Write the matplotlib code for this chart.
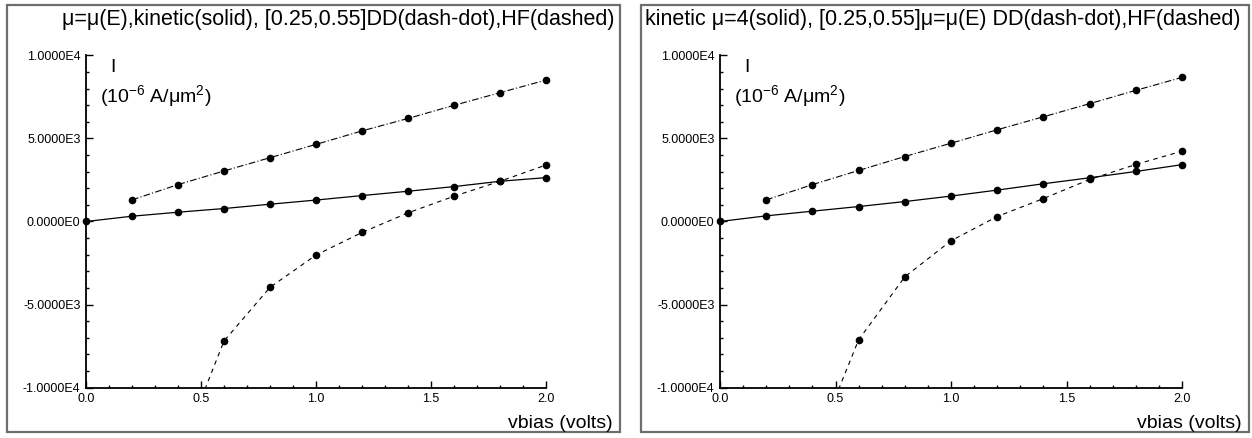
import numpy as np
import matplotlib
matplotlib.use('Agg')
import matplotlib.pyplot as plt
from matplotlib.ticker import MultipleLocator, FuncFormatter
from matplotlib.patches import Rectangle

plt.rcParams.update({'font.family': ['Liberation Sans', 'DejaVu Sans'],
                     'mathtext.default': 'regular'})

vbias = [0.0, 0.2, 0.4, 0.6, 0.8, 1.0, 1.2, 1.4, 1.6, 1.8, 2.0]
vbias_dd = vbias[1:]
vbias_hf = vbias[2:]

# left: mu = mu(E)
kin_left = [0, 318, 559, 780, 1040, 1290, 1560, 1820, 2100, 2420, 2640]
dd_left = [1300, 2220, 3040, 3840, 4640, 5450, 6200, 6990, 7750, 8510]
hf_left = [-14200, -7190, -3960, -2020, -660, 520, 1520, 2420, 3400]

# right: kinetic mu = 4
kin_right = [0, 340, 620, 900, 1200, 1530, 1890, 2270, 2630, 3010, 3420]
dd_right = [1300, 2220, 3070, 3910, 4710, 5520, 6300, 7090, 7890, 8670]
hf_right = [-14000, -7120, -3330, -1160, 300, 1380, 2530, 3430, 4230]

titles = ['μ=μ(E),kinetic(solid), [0.25,0.55]DD(dash-dot),HF(dashed)',
          'kinetic μ=4(solid), [0.25,0.55]μ=μ(E) DD(dash-dot),HF(dashed)']

def efmt(v, pos):
    if v == 0:
        return '0.0000E0'
    e = int(np.floor(np.log10(abs(v)) + 1e-9))
    return f'{v / 10**e:.4f}E{e}'

W, H = 1252, 438
fig = plt.figure(figsize=(W / 100, H / 100), dpi=100)

panels = [
    dict(box=(7, 5, 620, 432), ax=(86, 55.3, 546, 387.7), title_x=614, ha='right',
         kin=kin_left, dd=dd_left, hf=hf_left),
    dict(box=(641, 5, 1249, 432), ax=(720, 55.3, 1182, 387.7), title_x=645, ha='left',
         kin=kin_right, dd=dd_right, hf=hf_right),
]

for p, title in zip(panels, titles):
    x0, y0, x1, y1 = p['box']
    fig.patches.append(Rectangle((x0 / W, 1 - y1 / H), (x1 - x0) / W, (y1 - y0) / H,
                                 transform=fig.transFigure, fill=False,
                                 edgecolor='#6e6e6e', lw=1.6))
    ax0, ay0, ax1, ay1 = p['ax']
    ax = fig.add_axes([ax0 / W, 1 - ay1 / H, (ax1 - ax0) / W, (ay1 - ay0) / H])
    ax.set_xlim(0, 2)
    ax.set_ylim(-1e4, 1e4)
    for s in ['top', 'right']:
        ax.spines[s].set_visible(False)
    for s in ['left', 'bottom']:
        ax.spines[s].set_linewidth(1.3)
    ax.xaxis.set_major_locator(MultipleLocator(0.5))
    ax.xaxis.set_minor_locator(MultipleLocator(0.1))
    ax.yaxis.set_major_locator(MultipleLocator(5000))
    ax.yaxis.set_minor_locator(MultipleLocator(1000))
    ax.xaxis.set_major_formatter(FuncFormatter(lambda v, pos: f'{v:.1f}'))
    ax.yaxis.set_major_formatter(FuncFormatter(efmt))
    ax.tick_params(which='both', direction='in', labelsize=9, width=1.0)
    ax.tick_params(which='major', length=5, pad=4)
    ax.tick_params(which='minor', length=2.5)

    # line curves, clipped to the axes
    ax.plot(vbias, p['kin'], color='k', lw=0.9)
    ax.plot(vbias_dd, p['dd'], color='k', lw=0.8, linestyle=(0, (6, 2, 1, 2)))
    ax.plot(vbias_hf, p['hf'], color='k', lw=0.8, linestyle=(0, (4, 4)))
    # point markers for values within range
    for xs, ys in [(vbias, p['kin']), (vbias_dd, p['dd']), (vbias_hf, p['hf'])]:
        xs = np.array(xs); ys = np.array(ys)
        m = ys >= -1e4
        ax.plot(xs[m], ys[m], 'o', color='k', ms=4.5, clip_on=False, zorder=5)

    dx = (ax0 - 86) / W
    fig.text(113 / W + dx, 1 - 68 / H, 'I', fontsize=14, ha='center', va='center')
    fig.text(100 / W + dx, 1 - 96 / H, '(10$^{\\mathregular{-6}}$ A/μm$^{2}$)',
             fontsize=14, ha='left', va='center')
    fig.text(p['title_x'] / W, 1 - 19 / H, title, fontsize=15.5, ha=p['ha'], va='center')
    fig.text((x1 - 7) / W, 1 - 423 / H, 'vbias (volts)', fontsize=14,
             ha='right', va='center')

fig.savefig('out.png', dpi=100)
